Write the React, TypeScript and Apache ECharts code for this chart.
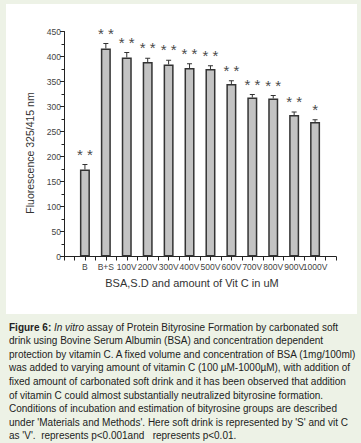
import React, { useEffect, useRef } from 'react';
import * as echarts from 'echarts';

const categories = ['B', 'B+S', '100V', '200V', '300V', '400V', '500V', '600V', '700V', '800V', '900V', '1000V'];
const values = [174, 416, 398, 389, 384, 377, 375, 345, 318, 316, 283, 269];
const errors = [10, 10, 10, 7.5, 8.5, 8.5, 6.5, 6.5, 6, 6, 6, 4.5];
const stars = ['**', '**', '**', '**', '**', '**', '**', '**', '**', '**', '**', '*'];
const yAxisName = 'Fluorescence 325/415 nm';
const xAxisName = 'BSA,S.D and amount of Vit C in uM';
const captionLines = [
  '{b|Figure 6:} {i|In vitro} assay of Protein Bityrosine Formation by carbonated soft',
  'drink using Bovine Serum Albumin (BSA) and concentration dependent',
  'protection by vitamin C. A fixed volume and concentration of BSA (1mg/100ml)',
  'was added to varying amount of vitamin C (100 \u00b5M-1000\u00b5M), with addition of',
  'fixed amount of carbonated soft drink and it has been observed that addition',
  'of vitamin C could almost substantially neutralized bityrosine formation.',
  'Conditions of incubation and estimation of bityrosine groups are described',
  "under 'Materials and Methods'. Here soft drink is represented by 'S' and vit C",
  "as 'V'.  represents p<0.001and   represents p<0.01.",
];

export default function App() {
  const ref = useRef<HTMLDivElement>(null);
  useEffect(() => {
    const chart = echarts.init(ref.current!, null, { renderer: 'svg' });
    const font = '"Liberation Sans", Arial, sans-serif';
    const barData = values.map((v, i) => [i + 1, v]);
    const errData = values.map((v, i) => [i + 1, v, errors[i]]);
    const capFont = 10;
    chart.setOption({
      animation: false,
      backgroundColor: '#edf2e6',
      textStyle: { fontFamily: font },
      grid: { left: 64, right: 25, top: 31.5, bottom: 443 - 256.5 },
      xAxis: {
        type: 'value',
        min: 0,
        max: 13,
        interval: 1,
        name: xAxisName,
        nameLocation: 'middle',
        nameGap: 21,
        nameTextStyle: { fontSize: 11, color: '#333', fontFamily: font, padding: [0, 16, 0, 0] },
        axisLine: { show: true, onZero: false, lineStyle: { color: '#222', width: 1 } },
        axisTick: { show: true, length: 4, lineStyle: { color: '#222' } },
        minorTick: { show: true, splitNumber: 2, length: 4, lineStyle: { color: '#222' } },
        splitLine: { show: false },
        minorSplitLine: { show: false },
        axisLabel: {
          fontSize: 8.5,
          color: '#444',
          margin: 6,
          fontFamily: font,
          formatter: (v: number) => categories[v - 1] ?? '',
        },
      },
      yAxis: {
        type: 'value',
        min: 0,
        max: 450,
        interval: 50,
        name: yAxisName,
        nameLocation: 'middle',
        nameGap: 26,
        nameTextStyle: { fontSize: 10.5, color: '#333', fontFamily: font, padding: [0, 18, 0, 0] },
        axisLine: { show: true, lineStyle: { color: '#222', width: 1 } },
        axisTick: { show: true, length: 4, lineStyle: { color: '#222' } },
        minorTick: { show: true, splitNumber: 2, length: 2.5, lineStyle: { color: '#222' } },
        splitLine: { show: false },
        minorSplitLine: { show: false },
        axisLabel: { fontSize: 8.5, color: '#444', margin: 3, fontFamily: font },
      },
      series: [
        {
          type: 'bar',
          data: barData,
          barWidth: 10,
          itemStyle: { color: '#c3c3c3', borderColor: '#333', borderWidth: 1.5 },
        },
        {
          type: 'custom',
          z: 3,
          data: errData,
          renderItem: (params: any, api: any) => {
            const x = api.value(0);
            const v = api.value(1);
            const e = api.value(2);
            const top = api.coord([x, v]);
            const et = api.coord([x, v + e]);
            const i = params.dataIndex;
            const txt = stars[i].split('').join(' ');
            return {
              type: 'group',
              children: [
                { type: 'line', shape: { x1: top[0], y1: top[1], x2: et[0], y2: et[1] }, style: { stroke: '#333', lineWidth: 1 } },
                { type: 'line', shape: { x1: et[0] - 2.5, y1: et[1], x2: et[0] + 2.5, y2: et[1] }, style: { stroke: '#333', lineWidth: 1 } },
                {
                  type: 'text',
                  x: et[0],
                  y: et[1] - 3,
                  style: { text: txt, align: 'center', verticalAlign: 'bottom', fontSize: 15, fontFamily: font, fill: '#4a4a4a' },
                },
              ],
            };
          },
        },
      ],
      graphic: [
        { type: 'rect', z: -10, shape: { x: 6, y: 4, width: 351, height: 310 }, style: { fill: '#ffffff' } },
        ...captionLines.map((line, i) => ({
          type: 'text',
          x: 9,
          y: 327 + i * 13.6,
          style: {
            text: line,
            fontSize: capFont,
            fontFamily: font,
            fill: '#222',
            align: 'left',
            verticalAlign: 'middle',
            rich: {
              b: { fontSize: capFont, fontWeight: 'bold', fontFamily: font, fill: '#222' },
              i: { fontSize: capFont, fontStyle: 'italic', fontFamily: font, fill: '#222' },
            },
          },
        })),
      ],
    });
    return () => chart.dispose();
  }, []);
  return <div ref={ref} style={{ position: 'fixed', left: 0, top: 0, width: 361, height: 443 }} />;
}
